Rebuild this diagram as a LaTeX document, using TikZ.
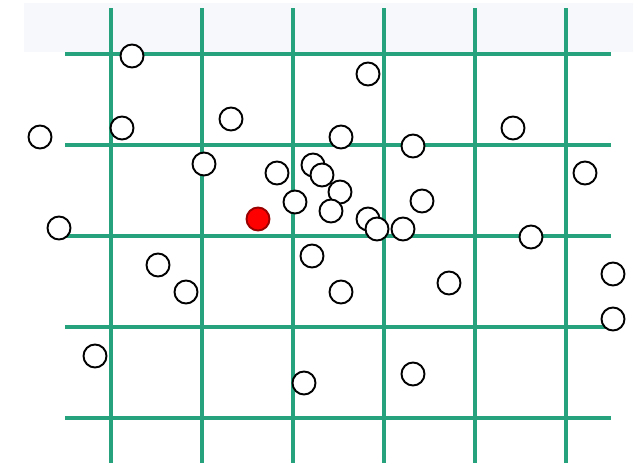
\documentclass[tikz,border=0pt]{standalone}
\usepackage{tikz}
\definecolor{gridgreen}{RGB}{38,163,125}
\definecolor{bandgray}{RGB}{247,248,252}
\tikzset{
  pt/.style={circle,draw=black,fill=white,line width=1.1pt,minimum size=0.46cm,inner sep=0pt},
  target/.style={pt,fill=red,draw=red!60!black},
  gline/.style={gridgreen,line width=2.6pt}
}

\begin{document}
\begin{tikzpicture}[x=0.02cm,y=-0.02cm]
\useasboundingbox (0,0) rectangle (643,463);
\fill[bandgray] (24,3) rectangle (633,52);
% grid
\foreach \x in {111,202,293,384,475,566} {\draw[gline] (\x,8)--(\x,463);}
\foreach \y in {54,145,236,327,418} {\draw[gline] (65,\y)--(611,\y);}
% points
\foreach \x/\y [count=\i] in {132/56,368/74,40/137,122/128,231/119,341/137,413/146,513/128,
  204/164,277/173,313/165,322/175,340/192,585/173,295/202,331/211,422/201,
  59/228,368/219,377/229,403/229,531/237,312/256,158/265,186/292,341/292,
  449/283,613/274,613/319,95/356,304/383,413/374}
  {\node[pt] (p\i) at (\x,\y) {};}
\node[target] (q) at (258,219) {};
\end{tikzpicture}
\end{document}
